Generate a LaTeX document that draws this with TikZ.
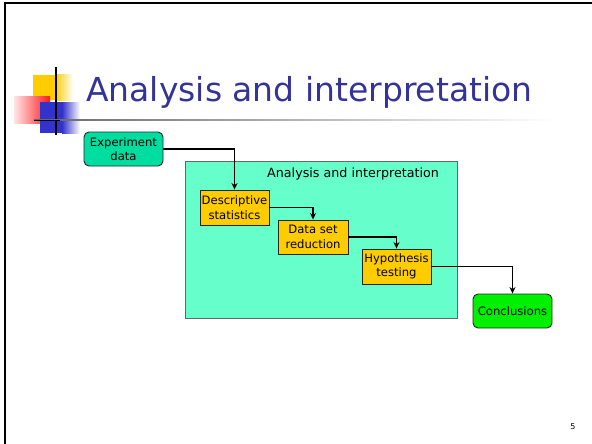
\documentclass[tikz,border=0pt]{standalone}
\usepackage{fontspec}
\setmainfont{DejaVu Sans}
\usepackage{tikz}
\usetikzlibrary{positioning,arrows.meta}

\definecolor{titleblue}{HTML}{333399}
\definecolor{expgreen}{HTML}{00DDA0}
\definecolor{aqua}{HTML}{66FFCC}
\definecolor{gold}{HTML}{FFCC00}
\definecolor{brightgreen}{HTML}{00F000}
\definecolor{logored}{HTML}{FF1A1A}
\definecolor{logoblue}{HTML}{3333CC}

\tikzset{
  stepbox/.style={draw=black!85,line width=0.9pt,fill=gold,minimum width=69pt,minimum height=35pt,
    inner sep=0pt,align=center,font=\fontsize{11.6}{14.5}\selectfont},
  endbox/.style={stepbox,rounded corners=5pt,minimum width=79pt,minimum height=34pt},
}

\begin{document}
\begin{tikzpicture}[x=1pt,y=-1pt,on grid,>={Stealth[length=6.5pt,width=6pt,inset=2pt]}]
\useasboundingbox (0,0) rectangle (592,444);
% slide border
\draw[line width=2.5pt] (4,3) -- (592,3);
\draw[line width=2.5pt] (5,3) -- (5,444);

% logo
\fill[gold] (33,75) rectangle (55,100);
\shade[left color=gold,right color=white] (55,75) rectangle (73,100);
\shade[left color=red!10,right color=logored] (14,97) rectangle (50,123);
\fill[logoblue] (40,102) rectangle (62,133);
\shade[left color=logoblue,right color=white] (62,102) rectangle (80,133);
\draw[line width=2pt] (56,67) -- (56,135);
\shade[left color=black!60,right color=white] (34,119.4) rectangle (556,120.8);
\draw[line width=1pt] (34,120) -- (60,120);

\node[anchor=base west,text=titleblue,font=\fontsize{33}{40}\selectfont,inner sep=0pt]
  (title) at (86,102) {Analysis and interpretation};

% process
\node[draw=black!60,fill=aqua,minimum width=272pt,minimum height=157pt] (ai) at (321,239.5) {};
\node[anchor=north east,inner sep=0pt,font=\fontsize{12.7}{15}\selectfont]
  (ailabel) at ([xshift=-18pt,yshift=-7pt]ai.north east) {Analysis and interpretation};

\node[endbox,fill=expgreen] (exp) at (123.5,149) {Experiment\\data};
\node[stepbox] (desc) [below right=58.5pt and 111pt of exp] {Descriptive\\statistics};
\node[stepbox,minimum width=70pt,minimum height=34pt] (red) [below right=29.5pt and 78.5pt of desc] {Data set\\reduction};
\node[stepbox] (hyp) [below right=29.5pt and 83.5pt of red] {Hypothesis\\testing};
\node[endbox,fill=brightgreen] (concl) [below right=44.5pt and 116pt of hyp] {Conclusions};

\draw[->,line width=1.3pt] (exp.east) -| (desc.north);
\draw[->,line width=1.3pt] (desc.east) -| (red.north);
\draw[->,line width=1.3pt] (red.east) -| (hyp.north);
\draw[->,line width=1.3pt] (hyp.east) -| (concl.north);

\node[font=\fontsize{8}{10}\selectfont] (pagenum) at (573,427) {5};
\end{tikzpicture}
\end{document}
